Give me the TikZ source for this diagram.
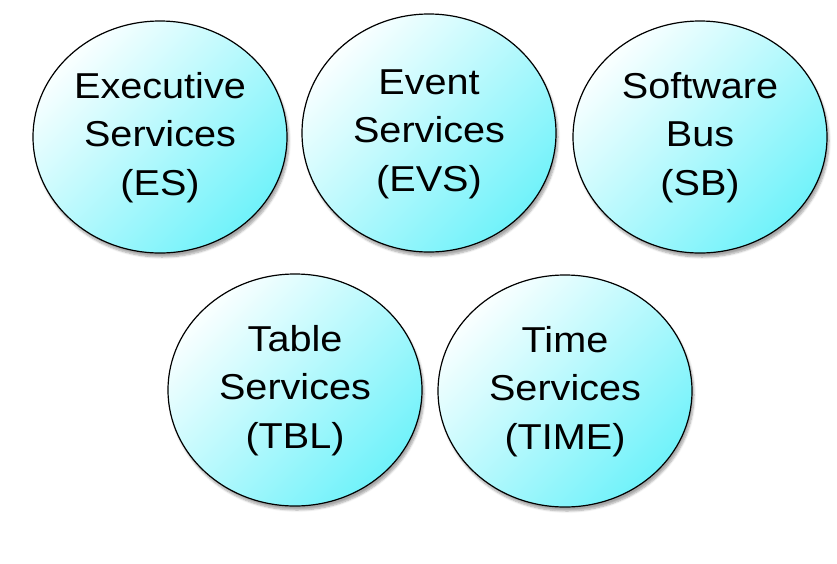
\documentclass[tikz,border=0pt]{standalone}
\usepackage{fontspec}
\setmainfont{Liberation Sans}
\usetikzlibrary{shapes.geometric,shadows.blur}
\definecolor{bubblecyan}{RGB}{112,242,250}
\definecolor{bubblemid}{RGB}{200,251,253}
\definecolor{bubblewhite}{RGB}{250,255,255}
\tikzset{
  bubble/.style={ellipse, draw=black, line width=1.2pt,
    minimum width=254pt, minimum height=232pt, inner sep=0pt,
    top color=bubblewhite, middle color=bubblemid, bottom color=bubblecyan, shading angle=45,
    blur shadow={shadow xshift=2pt, shadow yshift=-4pt, shadow opacity=35, shadow blur steps=6},
    font=\fontsize{36}{48.5}\selectfont},
}
\newcommand{\bubbletext}[1]{\scalebox{1.1}[1]{\begin{tabular}{@{}c@{}}#1\end{tabular}}}
\begin{document}
\begin{tikzpicture}[x=1pt,y=-1pt]
  \useasboundingbox (0,0) rectangle (837,563);
  \node[bubble] (es)   at (160,137) {\bubbletext{Executive\\Services\\(ES)}};
  \node[bubble, minimum height=238pt] (evs)  at (429,133) {\bubbletext{Event\\Services\\(EVS)}};
  \node[bubble] (sb)   at (700,137) {\bubbletext{Software\\Bus\\(SB)}};
  \node[bubble] (tbl)  at (295,390) {\bubbletext{Table\\Services\\(TBL)}};
  \node[bubble] (time) at (565,391) {\bubbletext{Time\\Services\\(TIME)}};
\end{tikzpicture}
\end{document}
